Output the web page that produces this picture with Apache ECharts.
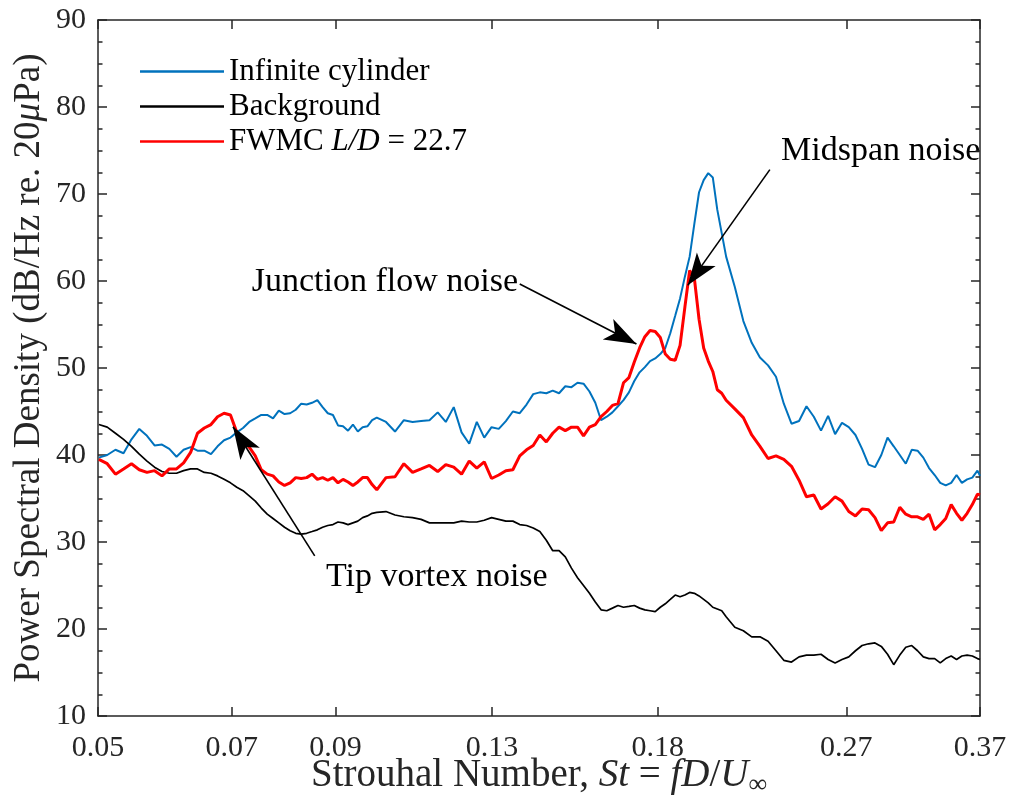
<!DOCTYPE html>
<html><head><meta charset="utf-8">
<script src="https://cdn.jsdelivr.net/npm/echarts@6/dist/echarts.min.js"></script>
<style>html,body{margin:0;padding:0;background:#fff}#c{width:1009px;height:802px}</style>
</head><body><div id="c"></div>
<script>
// Strouhal number grid
const st = [0.055,0.056,0.057,0.058,0.059,0.060,0.061,0.062,0.063,0.064,
 0.065,0.066,0.067,0.068,0.069,0.070,0.071,0.072,0.073,0.074,
 0.075,0.076,0.077,0.078,0.079,0.080,0.081,0.082,0.083,0.084,
 0.085,0.086,0.087,0.088,0.089,0.090,0.091,0.092,0.093,0.094,
 0.095,0.096,0.097,0.098,0.099,0.100,
 0.102,0.104,0.106,0.108,0.110,0.112,0.114,0.116,0.118,0.120,
 0.122,0.124,0.126,0.128,0.130,0.132,0.134,0.136,0.138,0.140,
 0.142,0.144,0.146,0.148,0.150,0.152,0.154,0.156,0.158,0.160,
 0.162,0.164,0.166,0.168,0.170,0.172,0.174,0.176,0.178,0.180,
 0.182,0.184,0.186,0.188,0.190,0.192,0.194,0.196,0.198,0.200,
 0.202,0.204,0.206,0.208,0.210,0.212,
 0.216,0.220,0.224,0.228,0.232,0.236,0.240,0.244,0.248,0.252,
 0.256,0.260,0.264,0.268,0.272,0.276,0.280,0.284,0.288,0.292,
 0.296,0.300,0.304,0.308,0.312,0.316,0.320,0.324,0.328,0.332,
 0.336,0.340,0.344,0.348,0.352,0.356,0.360,0.364,0.366];

const infiniteCylinder = [39.7,40.0,40.6,40.2,41.8,43.0,42.2,41.1,41.2,40.7,
 39.8,40.6,40.9,40.5,40.5,40.1,41.0,41.7,42.0,42.6,
 43.1,43.8,44.2,44.6,44.6,44.2,45.1,44.7,44.8,45.2,
 45.9,45.8,46.0,46.3,45.5,44.8,44.6,43.4,43.3,42.8,
 43.5,42.7,43.2,43.3,44.0,44.3,
 43.8,42.7,44.0,43.8,43.9,44.0,44.9,43.8,45.5,42.6,
 41.3,43.8,42.0,43.2,43.0,43.9,45.0,44.8,45.8,47.0,
 47.2,47.1,47.4,47.1,47.9,47.8,48.3,48.2,47.3,46.0,
 44.0,44.4,44.9,45.6,46.3,47.2,48.5,49.5,50.1,50.8,
 51.1,51.6,52.3,54.0,56.0,58.0,60.5,62.8,66.6,70.2,
 71.6,72.4,71.9,68.2,65.5,62.8,
 59.3,55.4,52.9,51.2,50.3,49.0,45.9,43.6,43.9,45.6,
 44.4,42.8,44.5,42.4,43.7,43.2,42.3,40.7,38.9,38.6,
 40.0,42.0,41.0,40.0,39.0,40.6,40.5,39.7,38.5,37.7,
 36.8,36.5,36.8,37.7,36.8,37.2,37.4,38.2,37.6];

const background = [43.5,43.2,42.5,41.8,41.0,40.1,39.3,38.6,38.1,37.9,
 37.9,38.2,38.4,38.4,38.0,37.9,37.6,37.2,36.8,36.3,
 35.9,35.3,34.7,33.9,33.2,32.7,32.2,31.7,31.3,31.0,
 30.9,31.0,31.2,31.4,31.7,31.9,32.0,32.3,32.2,32.0,
 32.2,32.4,32.8,33.0,33.3,33.4,
 33.5,33.1,32.9,32.8,32.6,32.2,32.2,32.2,32.2,32.4,
 32.3,32.3,32.5,32.8,32.6,32.4,32.4,32.0,31.9,31.6,
 31.2,30.2,29.0,29.0,28.3,27.0,25.9,25.0,24.1,23.1,
 22.2,22.1,22.4,22.7,22.5,22.6,22.7,22.4,22.2,22.1,
 22.0,22.5,22.9,23.4,23.9,23.7,23.9,24.2,24.1,23.8,
 23.4,23.0,22.5,22.3,22.1,21.4,
 20.2,19.8,19.1,19.1,18.6,17.5,16.4,16.2,16.8,17.0,
 17.0,17.1,16.5,16.1,16.5,16.8,17.5,18.1,18.3,18.4,
 18.0,17.1,15.9,17.0,17.9,18.1,17.5,16.8,16.6,16.6,
 16.1,16.6,16.9,16.5,16.9,17.0,16.9,16.6,16.5];

const fwmc = [39.5,39.0,37.8,38.4,39.0,38.3,38.0,38.2,37.6,38.4,
 38.4,39.1,40.3,42.5,43.1,43.5,44.4,44.8,44.6,42.6,
 41.6,40.9,39.9,38.3,37.8,37.6,36.9,36.5,36.8,37.4,
 37.3,37.4,37.8,37.2,37.4,37.1,37.4,36.8,37.2,36.9,
 36.5,36.9,37.4,37.4,36.6,36.0,
 37.4,37.5,39.0,38.0,38.4,38.8,38.1,38.9,38.6,37.8,
 39.3,38.5,39.2,37.3,37.7,38.2,38.3,39.9,40.6,41.1,
 42.3,41.5,42.5,43.2,42.8,43.2,43.2,42.2,43.2,43.5,
 44.4,45.0,45.7,45.9,48.3,48.9,50.7,52.3,53.6,54.3,
 54.2,53.5,51.6,51.0,50.9,52.6,57.0,61.2,60.3,55.6,
 52.3,50.8,49.6,47.5,47.1,46.3,
 45.3,44.3,42.3,41.0,39.6,39.9,39.5,38.7,37.1,35.2,
 35.4,33.8,34.4,35.2,34.7,33.5,33.0,33.8,33.7,32.8,
 31.3,32.2,32.3,34.0,33.2,32.9,32.9,32.6,33.2,31.4,
 32.0,32.7,34.3,33.3,32.5,33.3,34.3,35.5,35.4];

const xTickValues = [0.0549, 0.0732, 0.0915, 0.1281, 0.183, 0.2745, 0.366];
const xTickLabels = ['0.05','0.07','0.09','0.13','0.18','0.27','0.37'];
const seriesNames = ['Infinite cylinder', 'Background', 'FWMC L/D = 22.7'];

// annotations: text, arrow start [St,dB], arrow tip [St,dB]
const annotations = [
  {text:'Tip vortex noise', from:[0.0875, 28.4], to:[0.0734, 43.25]},
  {text:'Junction flow noise', from:[0.1360, 59.66], to:[0.1748, 52.76]},
  {text:'Midspan noise', from:[0.2329, 72.8], to:[0.1952, 59.5]}
];

const FONT = '"Liberation Serif", "DejaVu Serif", serif';
const AX = '#262626';
const chart = echarts.init(document.getElementById('c'), null, {renderer:'canvas'});
const pairs = v => st.map((s, i) => [s, v[i]]);
function tickLabel(v) {
  let b = 0;
  for (let i = 1; i < xTickValues.length; i++) {
    if (Math.abs(xTickValues[i] - v) < Math.abs(xTickValues[b] - v)) b = i;
  }
  return xTickLabels[b];
}
const lineSt = {color: AX, width: 1.5};
const xBase = {
  type: 'log', logBase: 10, min: xTickValues[0], max: xTickValues[xTickValues.length - 1],
  splitLine: {show: false}, minorTick: {show: false}, minorSplitLine: {show: false},
  axisLine: {show: true, lineStyle: lineSt},
  axisTick: {show: true, inside: true, length: 9, customValues: xTickValues, lineStyle: lineSt}
};
const yBase = {
  type: 'value', min: 10, max: 90, interval: 10,
  splitLine: {show: false},
  axisLine: {show: true, lineStyle: lineSt},
  axisTick: {show: true, inside: true, length: 9, lineStyle: lineSt},
  minorTick: {show: true, splitNumber: 4, length: 4.5, lineStyle: lineSt}
};
const ARROW = 'path://M11.5,0 L23,32 L11.5,24 L0,32 Z';

const option = {
  animation: false,
  grid: {left: 98, right: 29, top: 20, bottom: 86, containLabel: false, outerBoundsMode: 'none'},
  legend: {
    data: seriesNames, orient: 'vertical', left: 135, top: 51,
    icon: 'rect', itemWidth: 84, itemHeight: 2.5, itemGap: 4,
    textStyle: {fontFamily: FONT, fontSize: 31, color: '#000',
      rich: {i: {fontFamily: FONT, fontSize: 31, fontStyle: 'italic', color: '#000'}}},
    formatter: n => n === seriesNames[2] ? 'FWMC {i|L/D} = 22.7' : n
  },
  xAxis: [
    Object.assign({}, xBase, {
      position: 'bottom',
      axisLabel: {show: true, customValues: xTickValues, formatter: tickLabel,
        fontFamily: FONT, fontSize: 30, color: AX, margin: 17},
      name: 'Strouhal Number, {i|St} = {i|fD}/{i|U}{s|∞}',
      nameLocation: 'middle', nameGap: 38, nameMoveOverlap: false,
      nameTextStyle: {fontFamily: FONT, fontSize: 39, color: AX, lineHeight: 44,
        rich: {i: {fontFamily: FONT, fontSize: 39, fontStyle: 'italic', color: AX, lineHeight: 44},
               s: {fontFamily: FONT, fontSize: 26, color: AX, verticalAlign: 'bottom', lineHeight: 26}}}
    }),
    Object.assign({}, xBase, {position: 'top', axisLabel: {show: false}})
  ],
  yAxis: [
    Object.assign({}, yBase, {
      position: 'left',
      axisLabel: {fontFamily: FONT, fontSize: 30, color: AX, margin: 12},
      name: 'Power Spectral Density (dB/Hz re. 20{i|μ}Pa)',
      nameLocation: 'middle', nameGap: 50, nameMoveOverlap: false,
      nameTextStyle: {fontFamily: FONT, fontSize: 37, color: AX,
        rich: {i: {fontFamily: FONT, fontSize: 37, fontStyle: 'italic', color: AX}}}
    }),
    Object.assign({}, yBase, {position: 'right', axisLabel: {show: false}})
  ],
  series: [
    {name: seriesNames[0], type: 'line', data: pairs(infiniteCylinder), symbol: 'none',
     lineStyle: {color: '#0072BD', width: 2}, itemStyle: {color: '#0072BD'}, z: 2},
    {name: seriesNames[1], type: 'line', data: pairs(background), symbol: 'none',
     lineStyle: {color: '#000000', width: 1.7}, itemStyle: {color: '#000000'}, z: 3},
    {name: seriesNames[2], type: 'line', data: pairs(fwmc), symbol: 'none',
     lineStyle: {color: '#FF0000', width: 3}, itemStyle: {color: '#FF0000'}, z: 4,
     markLine: {
       silent: true, animation: false, symbol: ['none', ARROW], symbolSize: 32,
       symbolKeepAspect: true, symbolOffset: [[0, 0], [0, 16]],
       label: {show: false}, emphasis: {disabled: true},
       lineStyle: {color: '#000', width: 1.6, type: 'solid', opacity: 1},
       itemStyle: {color: '#000'},
       data: annotations.map(a => [{coord: a.from}, {coord: a.to}])
     }}
  ],
  graphic: [
    {type: 'text', x: 326, y: 577, style: {text: annotations[0].text, font: '34px ' + FONT, fill: '#000', align: 'left', verticalAlign: 'middle'}},
    {type: 'text', x: 518, y: 282, style: {text: annotations[1].text, font: '34px ' + FONT, fill: '#000', align: 'right', verticalAlign: 'middle'}},
    {type: 'text', x: 781, y: 151, style: {text: annotations[2].text, font: '34px ' + FONT, fill: '#000', align: 'left', verticalAlign: 'middle'}}
  ]
};
chart.setOption(option);
</script></body></html>
